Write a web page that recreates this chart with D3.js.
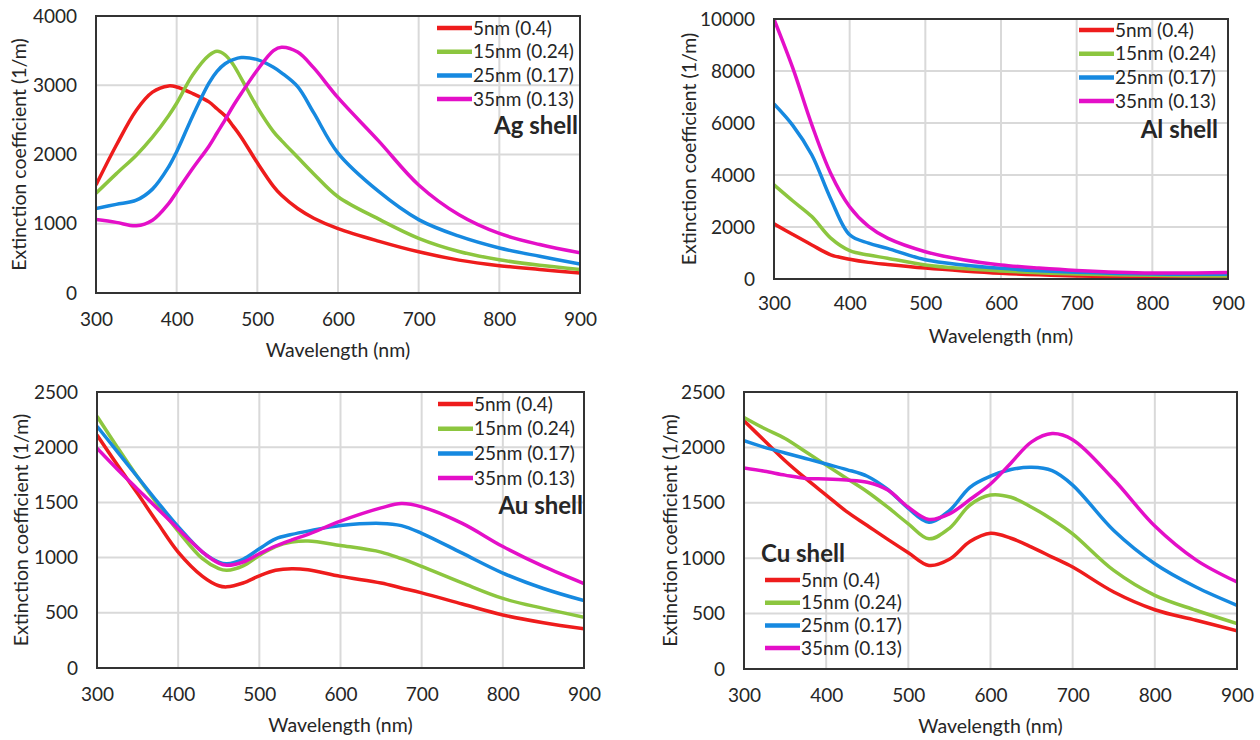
<!DOCTYPE html>
<html>
<head>
<meta charset="utf-8">
<script src="https://cdn.jsdelivr.net/npm/d3@7"></script>
<style>
  body { margin: 0; background: #fff; }
  text { font-family: Lato, "Open Sans", sans-serif; fill: #262626; }
</style>
</head>
<body>
<svg id="chart" width="1260" height="740"></svg>
<script>
// series names / colours shared by all four panels
var seriesLabels = ["5nm (0.4)", "15nm (0.24)", "25nm (0.17)", "35nm (0.13)"];
var seriesColors = ["#ee1c1c", "#8cc63f", "#1689e0", "#e40fc8"];
var xTicks = [300, 400, 500, 600, 700, 800, 900];

// Ag shell
var agWl   = [300, 325, 350, 370, 390, 400, 420, 440, 450, 460, 470, 480, 500, 520, 530, 550, 570, 600, 650, 700, 750, 800, 850, 900];
var agNm5  = [1560, 2130, 2640, 2900, 2990, 2975, 2880, 2760, 2660, 2560, 2410, 2250, 1880, 1540, 1410, 1220, 1080, 930, 750, 595, 475, 395, 340, 290];
var agNm15 = [1440, 1720, 1990, 2250, 2560, 2740, 3150, 3430, 3490, 3440, 3300, 3100, 2680, 2330, 2200, 1960, 1720, 1390, 1070, 790, 600, 480, 400, 340];
var agNm25 = [1220, 1280, 1340, 1500, 1820, 2040, 2560, 3030, 3200, 3310, 3370, 3400, 3370, 3260, 3180, 2980, 2600, 2020, 1470, 1060, 820, 650, 530, 420];
var agNm35 = [1060, 1020, 970, 1050, 1290, 1460, 1800, 2120, 2310, 2500, 2700, 2880, 3220, 3500, 3550, 3480, 3250, 2820, 2200, 1560, 1130, 860, 700, 580];
var agYTicks = [0, 1000, 2000, 3000, 4000];

// Al shell
var alWl   = [300, 325, 350, 375, 400, 425, 450, 500, 550, 600, 650, 700, 800, 900];
var alNm5  = [2120, 1710, 1310, 930, 760, 640, 560, 420, 310, 220, 160, 120, 80, 65];
var alNm15 = [3620, 3000, 2400, 1570, 1090, 920, 800, 540, 400, 310, 240, 190, 140, 120];
var alNm25 = [6730, 5900, 4770, 3080, 1700, 1380, 1180, 740, 540, 410, 320, 260, 190, 180];
var alNm35 = [9990, 8100, 5930, 4060, 2780, 2020, 1570, 1050, 740, 540, 420, 330, 230, 250];
var alYTicks = [0, 2000, 4000, 6000, 8000, 10000];

// Au shell
var auWl   = [300, 325, 350, 375, 400, 430, 450, 460, 480, 500, 520, 540, 560, 600, 650, 675, 700, 750, 800, 850, 900];
var auNm5  = [2110, 1840, 1580, 1310, 1050, 830, 745, 735, 770, 835, 885, 900, 890, 830, 770, 725, 680, 580, 480, 410, 355];
var auNm15 = [2280, 2000, 1730, 1480, 1240, 990, 900, 885, 925, 1020, 1100, 1140, 1150, 1110, 1050, 990, 920, 770, 630, 540, 460];
var auNm25 = [2190, 1960, 1730, 1500, 1280, 1050, 960, 945, 985, 1080, 1170, 1210, 1240, 1290, 1310, 1290, 1220, 1040, 860, 720, 610];
var auNm35 = [1990, 1800, 1620, 1440, 1260, 1050, 950, 930, 960, 1035, 1105, 1160, 1210, 1330, 1450, 1490, 1460, 1310, 1100, 920, 765];
var auYTicks = [0, 500, 1000, 1500, 2000, 2500];

// Cu shell
var cuWl   = [300, 325, 350, 375, 400, 425, 450, 475, 500, 525, 550, 575, 600, 625, 650, 675, 700, 750, 800, 850, 900];
var cuNm5  = [2240, 2060, 1880, 1720, 1570, 1420, 1295, 1170, 1050, 935, 990, 1150, 1225, 1180, 1100, 1010, 920, 695, 535, 440, 345];
var cuNm15 = [2270, 2170, 2080, 1960, 1840, 1720, 1600, 1460, 1310, 1175, 1270, 1480, 1570, 1550, 1460, 1350, 1220, 890, 665, 530, 410];
var cuNm25 = [2060, 2000, 1950, 1900, 1850, 1800, 1740, 1620, 1450, 1325, 1430, 1640, 1740, 1800, 1820, 1790, 1660, 1250, 950, 740, 575];
var cuNm35 = [1815, 1785, 1750, 1720, 1715, 1705, 1685, 1615, 1460, 1350, 1400, 1530, 1670, 1860, 2050, 2125, 2070, 1710, 1290, 985, 785];
var cuYTicks = [0, 500, 1000, 1500, 2000, 2500];

// panel layout (pixels)
var panels = [
  {name: "Ag shell", wl: agWl, series: [agNm5, agNm15, agNm25, agNm35], yTicks: agYTicks,
   left: 96, right: 580, top: 16, bottom: 293, titleOff: 77, xLabOff: 20,
   legX: 437, legY: 28, legStep: 23.7, nameX: 578, nameY: 126, nameAnchor: "end"},
  {name: "Al shell", wl: alWl, series: [alNm5, alNm15, alNm25, alNm35], yTicks: alYTicks,
   left: 774, right: 1228, top: 19, bottom: 279, titleOff: 85, xLabOff: 18,
   legX: 1079, legY: 30, legStep: 23.7, nameX: 1218, nameY: 130, nameAnchor: "end"},
  {name: "Au shell", wl: auWl, series: [auNm5, auNm15, auNm25, auNm35], yTicks: auYTicks,
   left: 97, right: 584, top: 392, bottom: 668, titleOff: 76, xLabOff: 20,
   legX: 438, legY: 404, legStep: 24.7, nameX: 583, nameY: 506, nameAnchor: "end"},
  {name: "Cu shell", wl: cuWl, series: [cuNm5, cuNm15, cuNm25, cuNm35], yTicks: cuYTicks,
   left: 744, right: 1237, top: 392, bottom: 669, titleOff: 74, xLabOff: 20,
   legX: 765, legY: 580, legStep: 22.7, nameX: 761, nameY: 554, nameAnchor: "start"}
];

var svg = d3.select("#chart");

panels.forEach(function (p, pi) {
  var x = d3.scaleLinear().domain([300, 900]).range([p.left, p.right]);
  var y = d3.scaleLinear().domain([0, d3.max(p.yTicks)]).range([p.bottom, p.top]);
  var g = svg.append("g");

  // grid
  g.append("g").selectAll("line").data(xTicks.slice(1, -1)).join("line")
    .attr("x1", function (d) { return x(d); }).attr("x2", function (d) { return x(d); })
    .attr("y1", p.top).attr("y2", p.bottom)
    .attr("stroke", "#d9d9d9").attr("stroke-width", 2);
  g.append("g").selectAll("line").data(p.yTicks.slice(1, -1)).join("line")
    .attr("y1", function (d) { return y(d); }).attr("y2", function (d) { return y(d); })
    .attr("x1", p.left).attr("x2", p.right)
    .attr("stroke", "#d9d9d9").attr("stroke-width", 2);

  // axes (labels only)
  var xAxis = g.append("g").attr("transform", "translate(0," + p.bottom + ")")
    .call(d3.axisBottom(x).tickValues(xTicks).tickSize(0).tickPadding(p.xLabOff));
  var yAxis = g.append("g").attr("transform", "translate(" + p.left + ",0)")
    .call(d3.axisLeft(y).tickValues(p.yTicks).tickSize(0).tickPadding(19).tickFormat(d3.format("d")));
  [xAxis, yAxis].forEach(function (a) {
    a.select(".domain").remove();
    a.selectAll("text").style("font-size", "19px").attr("fill", "#262626")
      .style("font-family", "Lato, 'Open Sans', sans-serif");
  });

  // axis titles
  g.append("text")
    .attr("x", (p.left + p.right) / 2).attr("y", p.bottom + 57)
    .attr("dy", "0.35em").attr("text-anchor", "middle")
    .style("font-size", "19.5px").text("Wavelength (nm)");
  g.append("text")
    .attr("transform", "translate(" + (p.left - p.titleOff) + "," + ((p.top + p.bottom) / 2) + ") rotate(-90)")
    .attr("dy", "0.35em").attr("text-anchor", "middle")
    .style("font-size", "19.5px").text("Extinction coefficient (1/m)");

  // curves
  var clipId = "clip" + pi;
  g.append("clipPath").attr("id", clipId).append("rect")
    .attr("x", p.left).attr("y", p.top)
    .attr("width", p.right - p.left).attr("height", p.bottom - p.top);

  var line = d3.line()
    .x(function (d) { return x(d[0]); })
    .y(function (d) { return y(d[1]); })
    .curve(d3.curveCatmullRom.alpha(0.5));

  var curves = g.append("g").attr("clip-path", "url(#" + clipId + ")");
  p.series.forEach(function (vals, si) {
    curves.append("path")
      .datum(d3.zip(p.wl, vals))
      .attr("d", line)
      .attr("fill", "none")
      .attr("stroke", seriesColors[si])
      .attr("stroke-width", 3.5)
      .attr("stroke-linejoin", "round");
  });

  // frame
  g.append("rect")
    .attr("x", p.left).attr("y", p.top)
    .attr("width", p.right - p.left).attr("height", p.bottom - p.top)
    .attr("fill", "none").attr("stroke", "#333").attr("stroke-width", 2);

  // legend
  var leg = g.append("g");
  seriesLabels.forEach(function (lab, si) {
    var ly = p.legY + si * p.legStep;
    leg.append("line")
      .attr("x1", p.legX).attr("x2", p.legX + 35)
      .attr("y1", ly).attr("y2", ly)
      .attr("stroke", seriesColors[si]).attr("stroke-width", 4.5);
    leg.append("text")
      .attr("x", p.legX + 36).attr("y", ly).attr("dy", "0.35em")
      .style("font-size", "19px").text(lab);
  });

  // panel name
  g.append("text")
    .attr("x", p.nameX).attr("y", p.nameY).attr("dy", "0.35em")
    .attr("text-anchor", p.nameAnchor)
    .style("font-size", "24px").style("font-weight", "bold").attr("fill", "#000")
    .text(p.name);
});
</script>
</body>
</html>
